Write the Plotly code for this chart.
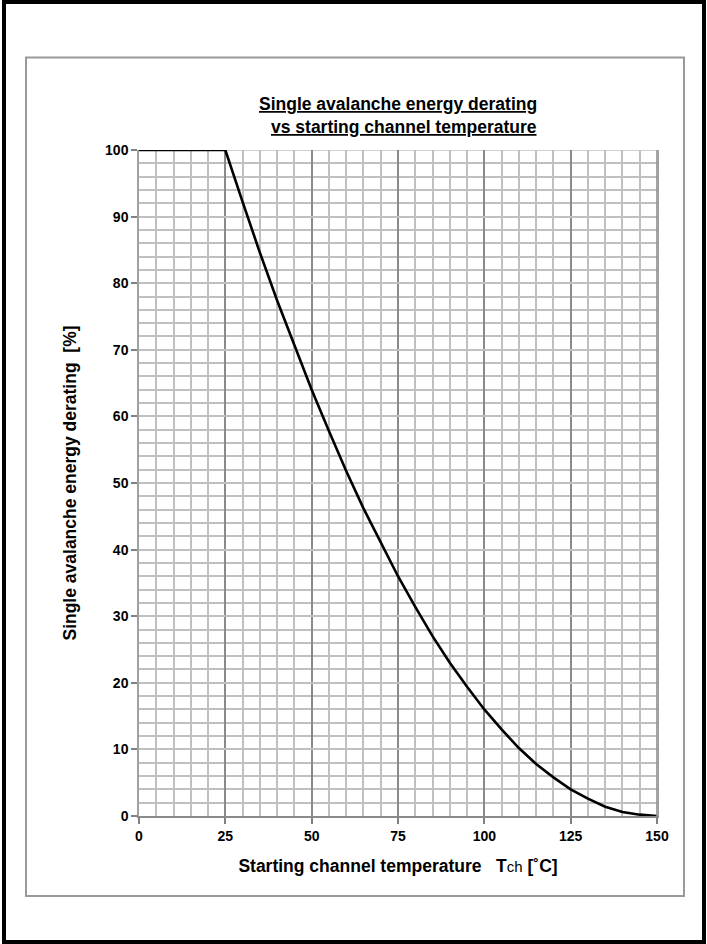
import plotly.graph_objects as go

# Data
temperature_c = [0, 25, 30, 35, 40, 45, 50, 55, 60, 65, 70, 75, 80, 85, 90, 95,
                 100, 105, 110, 115, 120, 125, 130, 135, 140, 145, 150]
derating_pct = [100, 100, 92.2, 84.6, 77.4, 70.6, 64.0, 57.8, 51.8, 46.2, 41.0, 36.0,
                31.4, 27.0, 23.0, 19.4, 16.0, 13.0, 10.2, 7.8, 5.8, 4.0, 2.6, 1.4,
                0.6, 0.2, 0.0]
x_ticks = [0, 25, 50, 75, 100, 125, 150]
y_ticks = [0, 10, 20, 30, 40, 50, 60, 70, 80, 90, 100]

W, H = 707, 944
L, R, T, B = 139, 657, 150, 816
pw, ph = R - L, B - T


def px(x):
    return (x - L) / pw


def py(y):
    return (B - y) / ph


FONT = "Liberation Sans, Arial, sans-serif"

fig = go.Figure()
fig.add_trace(go.Scatter(x=temperature_c, y=derating_pct, mode="lines",
                         line=dict(color="black", width=2.6), hoverinfo="skip",
                         showlegend=False, cliponaxis=False))

fig.update_layout(
    width=W, height=H,
    margin=dict(l=L, r=W - R, t=T, b=H - B, pad=0),
    paper_bgcolor="white", plot_bgcolor="white",
    font=dict(family=FONT, color="black"),
    xaxis=dict(
        range=[0, 150], tickvals=x_ticks, ticks="outside", ticklen=6,
        tickcolor="#808080", tickwidth=1.5,
        tickfont=dict(size=14, family=FONT, color="black", weight="bold"),
        showgrid=True, gridcolor="#8a8a8a", gridwidth=1.5,
        minor=dict(dtick=5, showgrid=True, gridcolor="#c0c0c0", gridwidth=1.5, ticks=""),
        showline=True, linecolor="#8a8a8a", linewidth=1.5,
        zeroline=False, fixedrange=True,
        title=dict(text="<b>Starting channel temperature   T</b><span style='font-size:15px'>ch</span><b> [˚C]</b>",
                   font=dict(size=17.5, family=FONT, color="black"), standoff=17),
    ),
    yaxis=dict(
        range=[0, 100], tickvals=y_ticks, ticks="outside", ticklen=6,
        tickcolor="#808080", tickwidth=1.5,
        tickfont=dict(size=14, family=FONT, color="black", weight="bold"),
        showgrid=True, gridcolor="#c0c0c0", gridwidth=1.5,
        minor=dict(dtick=2, showgrid=True, gridcolor="#c0c0c0", gridwidth=1.5, ticks=""),
        showline=True, linecolor="#a0a0a0", linewidth=1.5, mirror=True,
        zeroline=False, fixedrange=True,
        title=dict(text="<b>Single avalanche energy derating  [%]</b>",
                   font=dict(size=17.5, family=FONT, color="black"), standoff=24),
    ),
    shapes=[
        dict(type="rect", xref="paper", yref="paper", x0=px(4), x1=px(704),
             y0=py(2), y1=py(942), line=dict(color="black", width=4), layer="above"),
        dict(type="rect", xref="paper", yref="paper", x0=px(26), x1=px(684),
             y0=py(57.5), y1=py(896), line=dict(color="#9a9a9a", width=2), layer="above"),
        dict(type="line", xref="x", yref="paper", x0=150, x1=150, y0=0, y1=1,
             line=dict(color="#8a8a8a", width=1.5)),
        dict(type="line", xref="paper", yref="y", x0=0, x1=1, y0=100, y1=100,
             line=dict(color="#c0c0c0", width=1.5), layer="below"),
    ],
    annotations=[
        dict(xref="paper", yref="paper", x=px(539), y=py(104), xanchor="right", yanchor="middle",
             text="<b><u>Single avalanche energy derating</u></b>", showarrow=False,
             font=dict(size=17.5, family=FONT, color="black")),
        dict(xref="paper", yref="paper", x=px(539), y=py(127), xanchor="right", yanchor="middle",
             text="<b><u>vs starting channel temperature</u></b>", showarrow=False,
             font=dict(size=17.5, family=FONT, color="black")),
    ],
)

fig.write_html("out.html", config={"displayModeBar": False},
               post_script="document.body.style.margin='0px';document.body.style.overflow='hidden';")
